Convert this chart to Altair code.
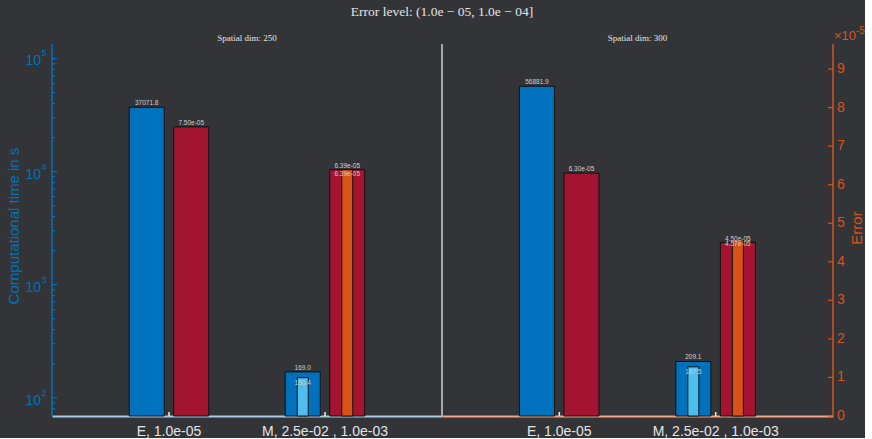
import altair as alt
import pandas as pd

# ------------------------------------------------------------------ data
main_title = "Error level: (1.0e \u2212 05, 1.0e \u2212 04]"
panel_titles = ["Spatial dim: 250", "Spatial dim: 300"]
methods = ["E, 1.0e-05", "M, 2.5e-02 , 1.0e-03"]
series = ["time", "error"]
inner_methods = ["M, 2.5e-02 , 1.0e-03"]

time_outer_250 = [37071.8, 169.0]
time_outer_300 = [56881.9, 209.1]
time_inner_250 = [150.4]
time_inner_300 = [187.5]
err_outer_250 = [7.50e-05, 6.39e-05]
err_outer_300 = [6.30e-05, 4.50e-05]
err_inner_250 = [6.39e-05]
err_inner_300 = [4.57e-05]

time_major = [1e2, 1e3, 1e4, 1e5]
time_exp = ["2", "3", "4", "5"]
time_minor = [80, 90, 200, 300, 400, 500, 600, 700, 800, 900,
              2000, 3000, 4000, 5000, 6000, 7000, 8000, 9000,
              20000, 30000, 40000, 50000, 60000, 70000, 80000, 90000]
err_ticks = [0.0, 1e-05, 2e-05, 3e-05, 4e-05, 5e-05, 6e-05, 7e-05, 8e-05, 9e-05]
err_tick_labels = ["0", "1", "2", "3", "4", "5", "6", "7", "8", "9"]

# axis ranges
time_domain = [68.9, 1.343e5]
err_domain = [0, 9.65e-05]

# ------------------------------------------------------------------ style
BG = "#333438"
C_TIME = "#0072BD"
C_TIME_IN = "#4DBEEE"
C_ERR = "#A2142F"
C_ERR_IN = "#D95319"
C_LEFT = "#0072BD"
C_RIGHT = "#D95319"
BASE_COLORS = ["#a6cde4", "#f0a47f"]
TXT = "#e4e4e4"
LBL = "#cfcfcf"
SANS = "Liberation Sans"
SERIF = "Liberation Serif"
H = 372
WIDTHS = [390, 391]

time_scale = alt.Scale(type="log", domain=time_domain, nice=False)
err_scale = alt.Scale(domain=err_domain, nice=False, zero=False)
x_scale = alt.Scale(domain=methods, paddingInner=0.49, paddingOuter=0.495)
xoff_scale = alt.Scale(domain=series, paddingInner=0.2135, paddingOuter=0)


def one(**kw):
    return pd.DataFrame({k: [v] for k, v in kw.items()})


def make_panel(i):
    W = WIDTHS[i]
    t_out = [time_outer_250, time_outer_300][i]
    t_in = [time_inner_250, time_inner_300][i]
    e_out = [err_outer_250, err_outer_300][i]
    e_in = [err_inner_250, err_inner_300][i]

    df_t = pd.DataFrame({"method": methods, "series": "time", "value": t_out,
                         "base": time_domain[0],
                         "label": [f"{v:.1f}" for v in t_out]})
    df_ti = pd.DataFrame({"method": inner_methods, "series": "time", "value": t_in,
                          "base": time_domain[0],
                          "label": [f"{v:.1f}" for v in t_in]})
    df_e = pd.DataFrame({"method": methods, "series": "error", "value": e_out,
                         "label": [f"{v:.2e}" for v in e_out]})
    df_ei = pd.DataFrame({"method": inner_methods, "series": "error", "value": e_in,
                          "label": [f"{v:.2e}" for v in e_in]})

    x_ax = alt.Axis(domainColor=BASE_COLORS[i], domainWidth=2, ticks=False,
                    labelColor=TXT, labelFontSize=14, labelFont=SANS,
                    labelPadding=8, labelAngle=0)
    xx = alt.X("method:N", scale=x_scale, title=None, axis=x_ax)
    xo = alt.XOffset("series:N", scale=xoff_scale)
    yt = alt.Y("value:Q", scale=time_scale, axis=None, stack=None)
    yt2 = alt.Y2("base:Q")
    ye = alt.Y("value:Q", scale=err_scale, axis=None, stack=None)

    t_bar = alt.Chart(df_t).mark_bar(color=C_TIME, stroke="#111111", strokeWidth=1).encode(
        x=xx, xOffset=xo, y=yt, y2=yt2)
    t_bar_in = alt.Chart(df_ti).mark_bar(color=C_TIME_IN, stroke="#111111", strokeWidth=1,
                                          width=11).encode(x=xx, xOffset=xo, y=yt, y2=yt2)
    t_lbl = alt.Chart(df_t).mark_text(fontSize=6.5, color=LBL, font=SANS, baseline="bottom",
                                      dy=-1).encode(x=xx, xOffset=xo, y=yt, text="label:N")
    t_lbl_in = alt.Chart(df_ti).mark_text(fontSize=6.5, color=LBL, font=SANS, baseline="top",
                                          dy=2).encode(x=xx, xOffset=xo, y=yt, text="label:N")
    t_layers = [t_bar, t_bar_in, t_lbl, t_lbl_in]

    e_bar = alt.Chart(df_e).mark_bar(color=C_ERR, stroke="#111111", strokeWidth=1).encode(
        x=xx, xOffset=xo, y=ye)
    e_bar_in = alt.Chart(df_ei).mark_bar(color=C_ERR_IN, stroke="#111111", strokeWidth=1,
                                          width=11).encode(x=xx, xOffset=xo, y=ye)
    e_lbl = alt.Chart(df_e).mark_text(fontSize=6.5, color=LBL, font=SANS, baseline="bottom",
                                      dy=-1).encode(x=xx, xOffset=xo, y=ye, text="label:N")
    e_lbl_in = alt.Chart(df_ei).mark_text(fontSize=6.5, color=LBL, font=SANS, baseline="top",
                                          dy=1).encode(x=xx, xOffset=xo, y=ye, text="label:N")
    e_layers = [e_bar, e_bar_in, e_lbl, e_lbl_in]

    extra = []
    # small white ticks at the category centres
    extra.append(alt.Chart(pd.DataFrame({"method": methods})).mark_rule(
        color="#eeeeee", strokeWidth=1.5).encode(
        x=xx, y=alt.value(H - 4), y2=alt.value(H)))
    # panel subtitle
    extra.append(alt.Chart(one(t=panel_titles[i])).mark_text(
        font=SERIF, fontSize=9, color=TXT, baseline="middle").encode(
        x=alt.value(W / 2), y=alt.value(-6), text="t:N"))

    if i == 0:
        df_maj = pd.DataFrame({"value": time_major, "exp": time_exp, "ten": "10"})
        df_min = pd.DataFrame({"value": time_minor})
        t_layers += [
            alt.Chart(df_maj).mark_rule(color=C_LEFT, strokeWidth=1.2).encode(
                y=yt, x=alt.value(0), x2=alt.value(5)),
            alt.Chart(df_min).mark_rule(color=C_LEFT, strokeWidth=1.2).encode(
                y=yt, x=alt.value(0), x2=alt.value(3)),
            alt.Chart(df_maj).mark_text(font=SANS, fontSize=14, color=C_LEFT, align="right",
                                        baseline="middle", dy=3).encode(
                y=yt, x=alt.value(-11), text="ten:N"),
            alt.Chart(df_maj).mark_text(font=SANS, fontSize=9, color=C_LEFT, align="left",
                                        baseline="middle", dy=-5).encode(
                y=yt, x=alt.value(-10.5), text="exp:N"),
        ]
        extra += [
            alt.Chart(one(a=0)).mark_rule(color=C_LEFT, strokeWidth=1.5).encode(
                x=alt.value(0), y=alt.value(0), y2=alt.value(H)),
            alt.Chart(one(a=0)).mark_rule(color="#a9a9a9", strokeWidth=2).encode(
                x=alt.value(W), y=alt.value(0), y2=alt.value(H)),
            alt.Chart(one(t="Computational time in s")).mark_text(
                font=SANS, fontSize=15, color=C_LEFT, angle=270, baseline="middle").encode(
                x=alt.value(-38), y=alt.value(H / 2 - 4), text="t:N"),
            alt.Chart(one(t=main_title)).mark_text(
                font=SERIF, fontSize=13.5, color=TXT, baseline="middle").encode(
                x=alt.value(W), y=alt.value(-32), text="t:N"),
        ]
    else:
        df_et = pd.DataFrame({"value": err_ticks, "lab": err_tick_labels})
        e_layers += [
            alt.Chart(df_et).mark_rule(color=C_RIGHT, strokeWidth=1.2).encode(
                y=ye, x=alt.value(W - 5), x2=alt.value(W)),
            alt.Chart(df_et).mark_text(font=SANS, fontSize=14, color=C_RIGHT, align="left",
                                       baseline="middle").encode(
                y=ye, x=alt.value(W + 4), text="lab:N"),
        ]
        extra += [
            alt.Chart(one(a=0)).mark_rule(color=C_RIGHT, strokeWidth=1.5).encode(
                x=alt.value(W), y=alt.value(0), y2=alt.value(H)),
            alt.Chart(one(t="Error")).mark_text(
                font=SANS, fontSize=15, color=C_RIGHT, angle=270, baseline="middle").encode(
                x=alt.value(W + 24), y=alt.value(H / 2 - 2), text="t:N"),
            alt.Chart(one(t="\u00d710")).mark_text(
                font=SANS, fontSize=13, color=C_RIGHT, align="left", baseline="middle").encode(
                x=alt.value(W + 1), y=alt.value(-8), text="t:N"),
            alt.Chart(one(t="-5")).mark_text(
                font=SANS, fontSize=10, color=C_RIGHT, align="left", baseline="middle").encode(
                x=alt.value(W + 23), y=alt.value(-13), text="t:N"),
        ]

    t_group = alt.layer(*t_layers)
    e_group = alt.layer(*e_layers)
    return alt.layer(t_group, e_group, *extra).resolve_scale(y="independent").properties(
        width=W, height=H)


chart = alt.hconcat(make_panel(0), make_panel(1), spacing=0, bounds="flush").properties(
    background=BG,
    padding={"left": 7, "top": 5, "right": 0, "bottom": 0},
).configure_view(stroke=None)

chart.save("out.html", embed_options={"renderer": "svg", "actions": False})
